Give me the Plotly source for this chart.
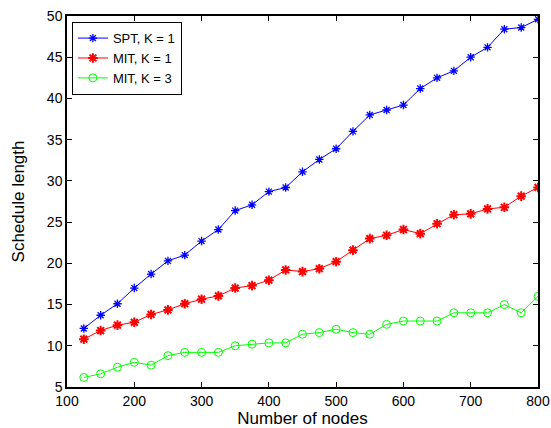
import plotly.graph_objects as go

nodes = [125, 150, 175, 200, 225, 250, 275, 300, 325, 350, 375, 400, 425, 450,
         475, 500, 525, 550, 575, 600, 625, 650, 675, 700, 725, 750, 775, 800]
spt_k1 = [12.1, 13.7, 15.1, 17.0, 18.7, 20.3, 21.0, 22.7, 24.1, 26.4, 27.1, 28.7, 29.2, 31.1,
          32.6, 33.9, 36.0, 38.0, 38.6, 39.2, 41.2, 42.5, 43.35, 45.0, 46.2, 48.4, 48.6, 49.6]
mit_k1 = [10.8, 11.85, 12.5, 12.85, 13.8, 14.35, 15.1, 15.65, 16.05, 17.0, 17.3, 17.95, 19.2, 19.0,
          19.35, 20.2, 21.6, 23.0, 23.4, 24.1, 23.6, 24.8, 25.9, 26.0, 26.6, 26.8, 28.15, 29.2]
mit_k3 = [6.16, 6.6, 7.4, 8.0, 7.65, 8.8, 9.2, 9.2, 9.2, 10.0, 10.2, 10.35, 10.35, 11.4,
          11.6, 12.0, 11.6, 11.4, 12.6, 13.0, 13.0, 13.0, 14.0, 14.0, 14.0, 15.0, 14.0, 16.0]

x_ticks = [100, 200, 300, 400, 500, 600, 700, 800]
y_ticks = [5, 10, 15, 20, 25, 30, 35, 40, 45, 50]

font = "Liberation Sans, Arial, sans-serif"

fig = go.Figure()
fig.add_trace(go.Scatter(x=nodes, y=spt_k1, mode="lines+markers", name="SPT, K = 1",
                         line=dict(color="#0000ff", width=1),
                         marker=dict(symbol="asterisk-open", size=7,
                                     line=dict(color="#0000ff", width=1.3))))
fig.add_trace(go.Scatter(x=nodes, y=mit_k1, mode="lines+markers", name="MIT, K = 1",
                         line=dict(color="#ff0000", width=1),
                         marker=dict(symbol="asterisk-open", size=8,
                                     line=dict(color="#ff0000", width=2))))
fig.add_trace(go.Scatter(x=nodes, y=mit_k3, mode="lines+markers", name="MIT, K = 3",
                         line=dict(color="#00ff00", width=1),
                         marker=dict(symbol="circle-open", size=8,
                                     line=dict(color="#00ff00", width=1))))

axis_common = dict(showline=True, linecolor="black", linewidth=1.5, mirror="ticks",
                   ticks="inside", ticklen=5, tickcolor="black", tickwidth=1,
                   showgrid=False, zeroline=False, automargin=False,
                   tickfont=dict(family=font, size=14, color="black"))

fig.update_layout(
    width=551, height=428,
    margin=dict(l=67, r=13, t=16, b=41),
    paper_bgcolor="white", plot_bgcolor="white",
    font=dict(family=font, color="black"),
    xaxis=dict(range=[100, 800], tickvals=x_ticks,
               title=dict(text="Number of nodes", font=dict(family=font, size=17), standoff=4),
               **axis_common),
    yaxis=dict(range=[5, 50], tickvals=y_ticks,
               title=dict(text="Schedule length", font=dict(family=font, size=17), standoff=18),
               **axis_common),
    legend=dict(x=0.01, y=0.984, xanchor="left", yanchor="top",
                bgcolor="white", bordercolor="black", borderwidth=1.2,
                font=dict(family=font, size=13, color="black"),
                tracegroupgap=0, itemwidth=30),
    showlegend=True,
)

fig.write_html("out.html",
               config={"displayModeBar": False},
               post_script="document.body.style.margin='0px';document.body.style.overflow='hidden';")
